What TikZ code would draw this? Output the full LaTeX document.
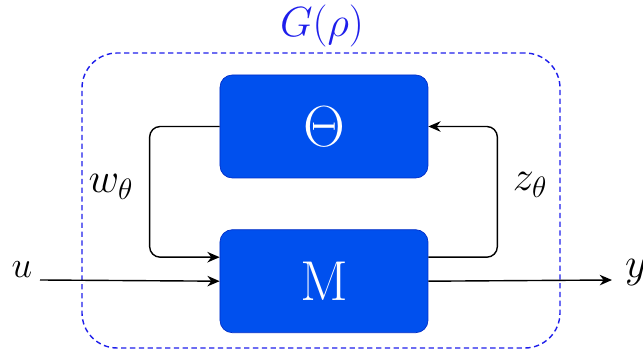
\RequirePackage{fix-cm}
\documentclass[tikz,border=0pt]{standalone}
\usepackage{amsmath,amssymb}
\usepackage{tikz}
\usetikzlibrary{positioning,arrows.meta}
\definecolor{blockblue}{RGB}{0,80,238}
\definecolor{blockedge}{RGB}{0,45,200}
\definecolor{frameblue}{RGB}{30,30,235}

\begin{document}
\begin{tikzpicture}[node distance=1.02cm, auto,
    block/.style={rectangle, draw=blockedge, fill=blockblue, text=white, minimum width=4.16cm, minimum height=2.06cm, rounded corners=7pt, font=\fontsize{32}{38}\selectfont},
    frame/.style={rectangle, draw=frameblue, thick, dash pattern=on 3pt off 2pt, rounded corners=20pt, minimum width=9.56cm, minimum height=5.9cm},
    arrow/.style={->, thick, >={Stealth[length=7pt,width=6pt]}},
    sig/.style={font=\fontsize{24}{28}\selectfont}]

    \useasboundingbox (0,0) rectangle (12.86,-7.2);

    \node[frame] (G) at (6.42,-4.01) {};
    \node[sig, text=frameblue] (Glabel) at (6.44,-0.52) {$G(\rho)$};

    \node[block, font=\fontsize{33}{40}\selectfont] (Theta) at (6.48,-2.53) {$\Theta$};
    \node[block, below=of Theta] (M) {$\mathrm{M}$};

    \coordinate (uin) at (0.8,-5.6);
    \coordinate (yout) at (12.24,-5.6);
    \node[sig, font=\fontsize{21}{25}\selectfont] (u) at (0.44,-5.4) {$u$};
    \node[sig] (y) at (12.72,-5.46) {$y$};
    \node[sig] (w) at (2.22,-3.74) {$w_\theta$};
    \node[sig] (z) at (10.6,-3.7) {$z_\theta$};

    \draw[arrow, rounded corners=6pt] (Theta.west) -- ++(-1.4,0) |- ([yshift=0.48cm]M.west);
    \draw[arrow, rounded corners=6pt] ([yshift=0.48cm]M.east) -- ++(1.38,0) |- (Theta.east);
    \draw[arrow] (uin) -- (M.west);
    \draw[arrow] (M.east) -- (yout);
\end{tikzpicture}
\end{document}
